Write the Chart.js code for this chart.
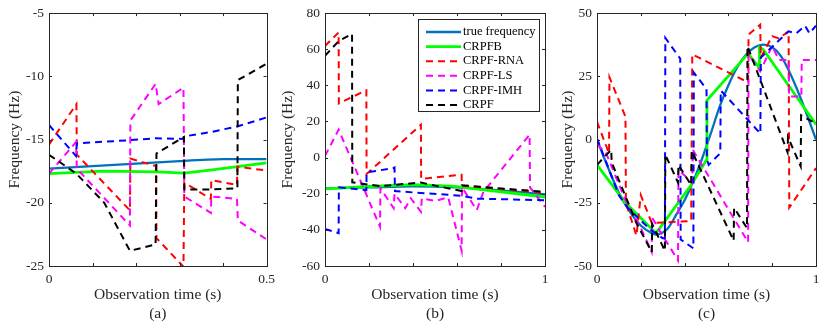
<!DOCTYPE html>
<html>
<head>
<meta charset="utf-8">
<script src="https://cdn.jsdelivr.net/npm/chart.js@4"></script>
<style>
  body { margin: 0; background: #fff; }
  #wrap { position: relative; width: 831px; height: 326px; }
  #wrap canvas { position: absolute; top: 0; }
</style>
</head>
<body>
<div id="wrap">
  <canvas id="ca" width="280" height="326" style="left:0px"></canvas>
  <canvas id="cb" width="282" height="326" style="left:273px"></canvas>
  <canvas id="cc" width="278" height="326" style="left:553px"></canvas>
</div>
<script>
// legend labels, same for all three panels
const names = ["true frequency", "CRPFB", "CRPF-RNA", "CRPF-LS", "CRPF-IMH", "CRPF"];

// panel (a): [time (s), frequency (Hz)]
const aTrue  = [[0,-17.3],[0.1,-17.1],[0.2,-16.9],[0.3,-16.7],[0.4,-16.55],[0.5,-16.55]];
const aCrpfb = [[0,-17.7],[0.125,-17.5],[0.25,-17.55],[0.31,-17.65],[0.375,-17.4],[0.5,-16.85]];
const aRna   = [[0,-15.4],[0.063,-12.2],[0.064,-16.2],[0.186,-20.6],[0.187,-16.5],[0.246,-17.1],[0.247,-22.8],[0.309,-25.05],[0.311,-18.4],[0.372,-19.7],[0.373,-18.2],[0.432,-18.6],[0.433,-17.15],[0.5,-17.45]];
const aLs    = [[0,-17.7],[0.062,-15.2],[0.064,-17.3],[0.186,-21.8],[0.187,-13.5],[0.245,-10.6],[0.252,-12.2],[0.309,-10.9],[0.311,-19.5],[0.372,-20.8],[0.373,-19.5],[0.432,-19.7],[0.434,-21.4],[0.5,-22.9]];
const aImh   = [[0,-13.85],[0.062,-16.3],[0.064,-15.3],[0.186,-15.05],[0.245,-14.9],[0.309,-14.95],[0.311,-14.75],[0.373,-14.4],[0.434,-13.95],[0.5,-13.25]];
const aCrpf  = [[0,-16.2],[0.063,-17.7],[0.127,-20.0],[0.186,-23.8],[0.245,-23.3],[0.247,-16.1],[0.31,-14.8],[0.311,-18.95],[0.373,-18.95],[0.433,-18.85],[0.434,-10.3],[0.5,-9.0]];

// panel (b)
const bTrue  = [[0,-17],[0.2,-16.5],[0.4,-15.9],[0.6,-16.5],[0.8,-18.2],[1,-20.4]];
const bCrpfb = [[0,-17.3],[0.2,-16],[0.4,-14.9],[0.58,-15.8],[0.8,-18.9],[1,-21.8]];
const bRna   = [[0,61.8],[0.062,69.3],[0.063,30],[0.188,37.3],[0.189,-9.1],[0.436,18.2],[0.437,-11.8],[0.621,-9.5],[0.622,-15.5],[1,-19.5]];
const bLs    = [[0,1],[0.062,15.5],[0.25,-38.2],[0.252,-17],[0.312,-28],[0.316,-20],[0.365,-28],[0.39,-22.5],[0.436,-30],[0.44,-22.5],[0.5,-24],[0.56,-22],[0.621,-51.5],[0.623,-16.5],[0.69,-29],[0.72,-19],[0.93,12.7],[0.932,-16.5],[1,-27.3]];
const bImh   = [[0,-39.5],[0.062,-41.8],[0.063,-16.4],[0.188,-18],[0.189,-8.2],[0.312,-5.8],[0.316,-5.5],[0.318,-18.5],[0.436,-19.6],[0.56,-20.5],[0.621,-21.2],[0.69,-22.7],[1,-23.6]];
const bCrpf  = [[0,56.4],[0.062,64.5],[0.123,68.5],[0.124,-13.7],[0.25,-15.8],[0.436,-13.8],[0.5,-15.5],[0.621,-18.5],[0.622,-15.3],[1,-19]];

// panel (c)
const cTrue  = [[0,0],[0.05,-11],[0.1,-21],[0.15,-28.5],[0.2,-34],[0.25,-37],[0.28,-37.5],[0.32,-35.5],[0.36,-30],[0.4,-24],[0.44,-16.5],[0.48,-7.5],[0.52,2.5],[0.56,13],[0.6,21.5],[0.64,28.5],[0.68,33.5],[0.72,36.5],[0.76,37.5],[0.8,36.5],[0.84,33],[0.88,26.5],[0.92,18.5],[0.96,9.5],[1,0]];
const cCrpfb = [[0,-10],[0.13,-25],[0.2,-31],[0.27,-37],[0.43,-18],[0.5,-8],[0.502,15.5],[0.69,34],[0.74,28.5],[0.742,36.5],[0.76,35.5],[1,6]];
const cRna   = [[0,7],[0.055,-5.4],[0.057,24.6],[0.13,9],[0.132,-25],[0.18,-38],[0.2,-22],[0.25,-33],[0.43,-32.2],[0.435,33.7],[0.69,22.6],[0.692,41.5],[0.745,45.4],[0.748,32.4],[0.8,40.9],[0.83,40],[0.875,42.8],[0.878,-26.9],[1,-11.3]];
const cLs    = [[0,-2],[0.04,-5],[0.13,-24],[0.2,-35],[0.25,-44.5],[0.252,-31],[0.3,-38],[0.37,-47.8],[0.372,-12],[0.435,-17],[0.437,-4],[0.69,-40.6],[0.692,33.7],[0.745,27],[0.8,37],[0.83,31.5],[0.875,31.5],[0.877,17],[0.933,17],[0.935,31.5],[1,31.5]];
const cImh   = [[0,0.5],[0.1,-22],[0.14,-27],[0.2,-32],[0.25,-36],[0.3,-39],[0.31,-39],[0.312,40.2],[0.38,32],[0.382,-39.5],[0.44,-43],[0.442,26.5],[0.5,20],[0.502,-8],[0.51,-10],[0.563,-5.4],[0.565,19.4],[0.746,2.4],[0.748,32.4],[0.875,42.8],[0.91,42],[0.95,45],[0.97,42],[1,45]];
const cCrpf  = [[0,-10],[0.065,-4],[0.067,-9],[0.135,-23.5],[0.18,-33],[0.25,-44.5],[0.252,-33.4],[0.31,-44],[0.312,-6],[0.37,-17],[0.372,-10],[0.43,-18],[0.433,-4.5],[0.624,-40],[0.626,-27],[0.685,-35],[0.687,37],[0.87,-5],[0.872,1],[0.93,-10.6],[0.932,9.6],[1,6.3]];

const colors = ["rgb(0,114,189)", "rgb(0,255,0)", "rgb(255,0,0)", "rgb(255,0,255)", "rgb(0,0,255)", "rgb(0,0,0)"];
const widths = [2.3, 2.8, 2, 2, 2, 2];
const dash = [7, 5];

Chart.defaults.font.family = '"Liberation Serif", "Times New Roman", serif';
Chart.defaults.color = "#262626";

// matlab style box + inward tick marks on all 4 sides
const boxPlugin = {
  id: "box",
  afterDatasetsDraw(chart) {
    const { ctx, chartArea: a, scales: { x, y } } = chart;
    ctx.save();
    ctx.strokeStyle = "#262626";
    ctx.lineWidth = 1;
    ctx.beginPath();
    x.ticks.forEach((t) => {
      const px = Math.round(x.getPixelForValue(t.value)) + 0.5;
      ctx.moveTo(px, a.bottom); ctx.lineTo(px, a.bottom - 3);
      ctx.moveTo(px, a.top); ctx.lineTo(px, a.top + 3);
    });
    y.ticks.forEach((t) => {
      const py = Math.round(y.getPixelForValue(t.value)) + 0.5;
      ctx.moveTo(a.left, py); ctx.lineTo(a.left + 3, py);
      ctx.moveTo(a.right, py); ctx.lineTo(a.right - 3, py);
    });
    ctx.stroke();
    ctx.strokeRect(Math.round(a.left) + 0.5, Math.round(a.top) + 0.5, Math.round(a.width), Math.round(a.height));
    ctx.restore();
  },
};

// legend box drawn inside the plot area (top right), only for panel b
const legendBox = {
  id: "legendBox",
  afterDraw(chart, args, opts) {
    if (!opts.show) return;
    const { ctx, chartArea: a } = chart;
    const w = 121, h = 92, rowH = 14.6;
    const left = Math.round(a.right - 6 - w), top = Math.round(a.top + 6);
    ctx.save();
    ctx.fillStyle = "#fff";
    ctx.fillRect(left, top, w, h);
    ctx.strokeStyle = "#262626";
    ctx.lineWidth = 1;
    ctx.strokeRect(left + 0.5, top + 0.5, w, h);
    ctx.font = '12.5px "Liberation Serif"';
    ctx.textBaseline = "middle";
    chart.data.datasets.forEach((ds, i) => {
      const cy = top + 13 + i * rowH;
      ctx.strokeStyle = ds.borderColor;
      ctx.lineWidth = ds.borderWidth;
      ctx.setLineDash(ds.borderDash || []);
      ctx.beginPath();
      ctx.moveTo(left + 8, cy);
      ctx.lineTo(left + 43, cy);
      ctx.stroke();
      ctx.setLineDash([]);
      ctx.fillStyle = "#000";
      ctx.fillText(ds.label, left + 45, cy);
    });
    ctx.restore();
  },
};

function makeChart(id, series, xMax, xStep, yMin, yMax, yStep, yWidth, padRight, caption, showLegend) {
  const datasets = series.map((s, i) => ({
    label: names[i],
    data: s.map((p) => ({ x: p[0], y: p[1] })),
    borderColor: colors[i],
    backgroundColor: colors[i],
    borderWidth: widths[i],
    borderDash: i < 2 ? [] : dash,
    pointRadius: 0,
    tension: i == 0 ? 0.3 : 0,
    order: 6 - i,
  }));

  return new Chart(document.getElementById(id), {
    type: "line",
    data: { datasets: datasets },
    options: {
      responsive: false,
      animation: false,
      devicePixelRatio: 1,
      layout: { padding: { top: 12, right: padRight, bottom: 0, left: 0 } },
      plugins: {
        legend: { display: false },
        tooltip: { enabled: false },
        legendBox: { show: showLegend },
      },
      scales: {
        x: {
          type: "linear",
          min: 0,
          max: xMax,
          grid: { display: false, drawTicks: false },
          border: { display: false },
          ticks: {
            stepSize: xStep,
            padding: 5,
            font: { size: 13.5 },
            callback: (v) => (Math.abs(v) < 1e-9 || Math.abs(v - xMax) < 1e-9 ? v : ""),
          },
          title: {
            display: true,
            text: ["Observation time (s)", caption],
            font: { size: 15.5 },
            padding: { top: 0, bottom: 3 },
          },
          afterFit: (s) => { s.height = 60; },
        },
        y: {
          min: yMin,
          max: yMax,
          grid: { display: false, drawTicks: false },
          border: { display: false },
          ticks: { stepSize: yStep, padding: 5, font: { size: 13.5 } },
          title: {
            display: true,
            text: "Frequency (Hz)",
            font: { size: 15.5 },
            padding: { top: 5.7, bottom: 0 },
          },
          afterFit: (s) => { s.width = yWidth; },
        },
      },
    },
    plugins: [boxPlugin, legendBox],
  });
}

makeChart("ca", [aTrue, aCrpfb, aRna, aLs, aImh, aCrpf], 0.5, 0.1, -25, -5, 5, 49, 11, "(a)", false);
makeChart("cb", [bTrue, bCrpfb, bRna, bLs, bImh, bCrpf], 1, 0.2, -60, 80, 20, 52, 10, "(b)", true);
makeChart("cc", [cTrue, cCrpfb, cRna, cLs, cImh, cCrpf], 1, 0.2, -50, 50, 25, 44, 15, "(c)", false);
</script>
</body>
</html>
